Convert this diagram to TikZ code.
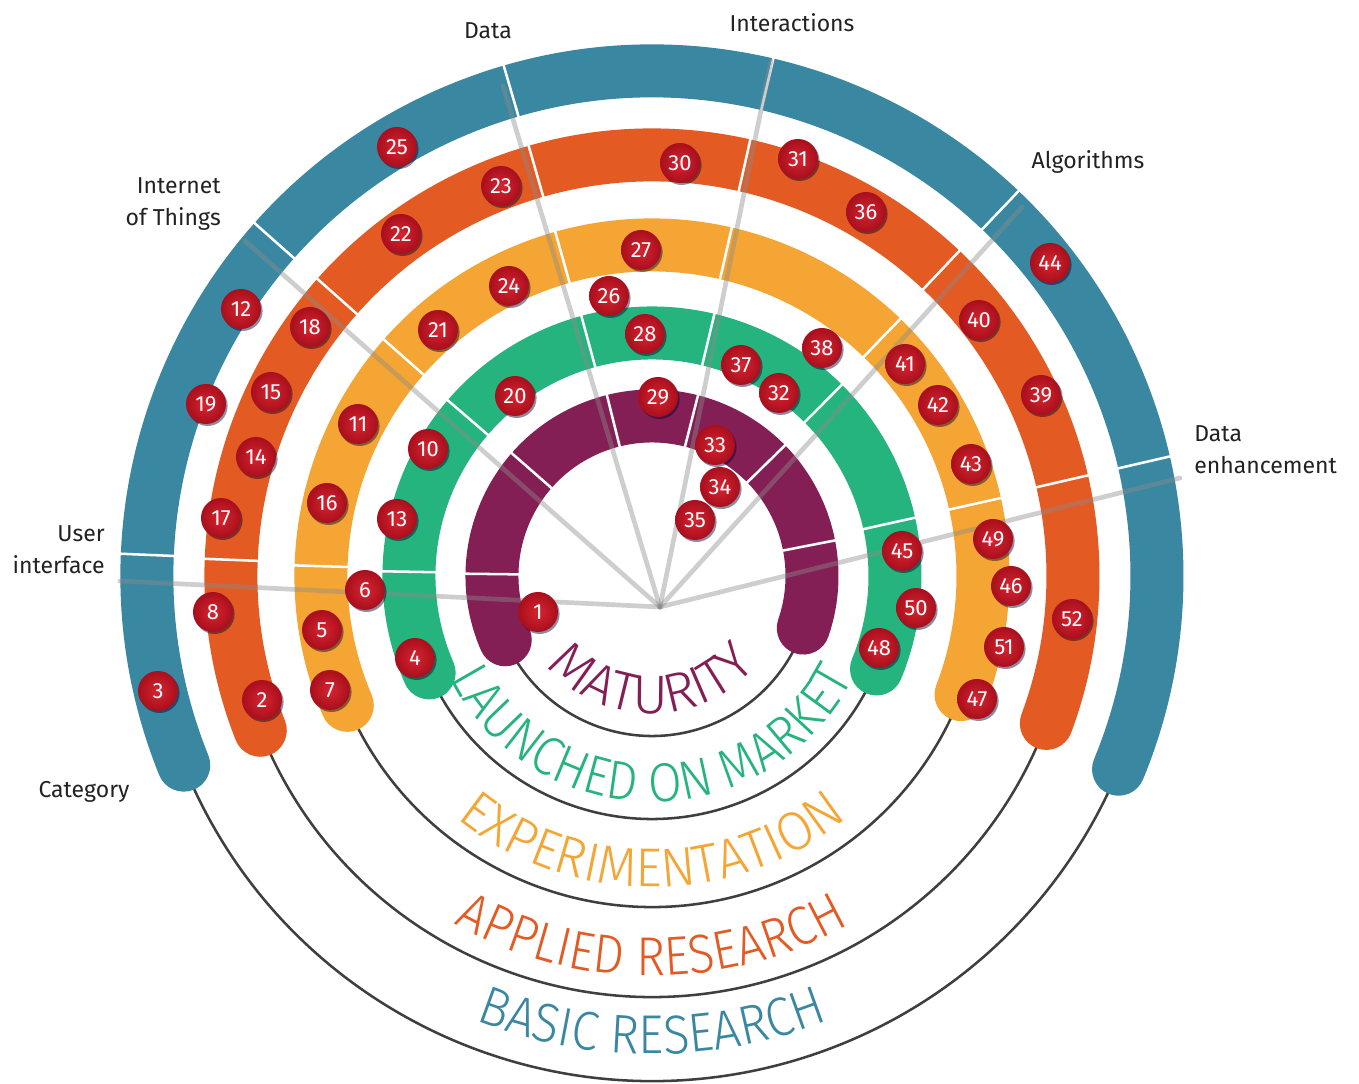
\documentclass[tikz,border=0pt]{standalone}
\usepackage{fontspec}
\setmainfont{Fira Sans}
\newfontfamily\titleA{Fira Sans Light}[FakeStretch=1.0]
\newfontfamily\titleB{Fira Sans Light}[FakeStretch=0.9]
\newfontfamily\titleC{Fira Sans Light}[FakeStretch=0.95]
\usetikzlibrary{decorations.text,shadows}
\definecolor{cblue}{HTML}{3A87A1}
\definecolor{corange}{HTML}{E35A22}
\definecolor{cyellow}{HTML}{F4A533}
\definecolor{cgreen}{HTML}{25B37E}
\definecolor{cpurple}{HTML}{841F55}
\definecolor{cthin}{HTML}{3F3F3F}
\definecolor{badgein}{HTML}{D82431}
\definecolor{badgeout}{HTML}{A80F1C}
\definecolor{labgray}{HTML}{222222}
\newcommand\tsize{\fontsize{41}{45}\selectfont}
\begin{document}
\begin{tikzpicture}[x=0.75pt,y=0.75pt,
  ring/.style={line width=39.75pt, line cap=round},
  thinarc/.style={draw=cthin, line width=1.9pt},
  divider/.style={draw=white, line width=1.9pt},
  graylink/.style={draw=black!45, line width=3.5pt, opacity=0.42, line cap=round},
  lab/.style={inner sep=0pt, text=labgray, font=\fontsize{17.25}{24}\selectfont},
  badge/.style={circle, minimum size=30pt, inner sep=0pt, inner color=badgein, outer color=badgeout,
     text=white, font=\fontsize{16.5}{16.5}\selectfont,
     drop shadow={shadow xshift=1.2pt, shadow yshift=-1.5pt, opacity=0.45, fill=black!80!blue}}]
\useasboundingbox (-652,-508) rectangle (707,576);
\fill[white] (-652,-508) rectangle (707,576);

% thin arcs under the rings
\foreach \r/\a/\b in {160/203.5/341, 243/203.5/337.5, 331/203/339, 421/201.5/339.5, 505/202/337.5}
  \draw[thinarc] (\a:\r) arc[start angle=\a, end angle=\b, radius=\r];

% rings
\draw[ring, draw=cpurple] (203.5:160) arc[start angle=203.5, end angle=-19, radius=160];
\draw[ring, draw=cgreen]  (203.5:243) arc[start angle=203.5, end angle=-22.5, radius=243];
\draw[ring, draw=cyellow] (203:331) arc[start angle=203, end angle=-21, radius=331];
\draw[ring, draw=corange] (201.5:421) arc[start angle=201.5, end angle=-20.5, radius=421];
\draw[ring, draw=cblue]   (202:505) arc[start angle=202, end angle=-22.5, radius=505];

% white dividers
\foreach \t in {179.3,138.8,104,75.7,44.5,11} \draw[divider] (\t:132) -- (\t:188);
\foreach \t in {179,139.3,105.2,76.6,45.2,12.5} \draw[divider] (\t:215) -- (\t:271);
\foreach \t in {178.3,138.6,105.7,77.1,46,12.6} \draw[divider] (\t:303) -- (\t:359);
\foreach \t in {177.8,138.4,106,77.3,46.6,13} \draw[divider] (\t:393) -- (\t:449);
\foreach \t in {177.6,138.4,106.2,76.8,46.4,13} \draw[divider] (\t:477) -- (\t:533);

% gray links
\coordinate (hub) at (8,-31);
\coordinate (eUI) at (-532,-5);
\coordinate (eIoT) at (-407,335);
\coordinate (eData) at (-149,490);
\coordinate (eInt) at (119,515);
\coordinate (eAlg) at (370,369);
\coordinate (eDE) at (528,98);
\foreach \e in {eUI,eIoT,eData,eInt,eAlg,eDE} \draw[graylink] (hub) -- (\e);

% labels
\node[lab, anchor=east, align=right] (lUI) at (-547,26) {User\\interface};
\node[lab, anchor=east, align=right] (lIoT) at (-431,372) {Internet\\of Things};
\node[lab] (lData) at (-164,545) {Data};
\node[lab] (lInt) at (140,553) {Interactions};
\node[lab] (lAlg) at (436,414) {Algorithms};
\node[lab, anchor=west, align=left] (lDE) at (542,126) {Data\\enhancement};
\node[lab] (lCat) at (-568,-216) {Category};

% titles along arcs
\path[decorate, decoration={text along path, text align=center,
  text={|\titleA\tsize\color{cpurple}|MATURITY}}] (180:138) arc[start angle=180, end angle=360, radius=138];
\path[decorate, decoration={text along path, text align=center,
  text={|\titleB\tsize\color{cgreen}|LAUNCHED ON MARKET}}] (180:226) arc[start angle=180, end angle=360, radius=226];
\path[decorate, decoration={text along path, text align=center,
  text={|\titleC\tsize\color{cyellow}|EXPERIMENTATION}}] (180:311) arc[start angle=180, end angle=360, radius=311];
\path[decorate, decoration={text along path, text align=center,
  text={|\titleB\tsize\color{corange}|APPLIED RESEARCH}}] (180:400) arc[start angle=180, end angle=360, radius=400];
\path[decorate, decoration={text along path, text align=center,
  text={|\titleB\tsize\color{cblue}|BASIC RESEARCH}}] (180:478) arc[start angle=180, end angle=360, radius=478];

% badges
\foreach \n/\x/\y in {1/-114/-36, 2/-390/-124, 3/-494/-115, 4/-237/-82, 5/-330/-54, 6/-287/-14,
  7/-322/-114, 8/-439/-36, 10/-224/127, 11/-294/152, 12/-411/267, 13/-255/57, 14/-396/119,
  15/-381/184, 16/-325/73, 17/-431/58, 18/-342/249, 19/-446/172, 20/-137/180, 21/-214/246,
  22/-251/342, 23/-151/390, 24/-143/290, 25/-255/429, 26/-43/280, 27/-11/326, 28/-7/242,
  29/6/179, 30/28/413, 31/146/417, 32/127/183, 33/63/131, 34/68/89, 35/43/56, 36/214/364,
  37/89/211, 38/170/228, 39/389/181, 40/327/256, 41/253/212, 42/286/171, 43/319/112,
  44/398/313, 45/250/25, 46/359/-10, 47/325/-123, 48/227/-72, 49/341/37, 50/264/-32,
  51/352/-71, 52/420/-43}
  \node[badge] (b\n) at (\x,\y) {\n};
\end{tikzpicture}
\end{document}
